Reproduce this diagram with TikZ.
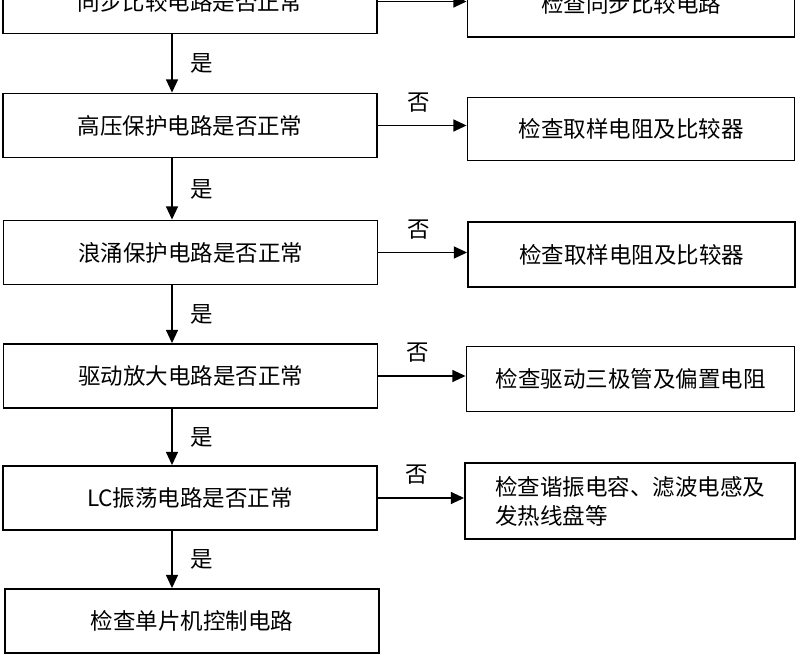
\documentclass[tikz,border=0pt]{standalone}
\usepackage{fontspec}
\newfontfamily\cjk{Noto Sans CJK SC}
\usetikzlibrary{arrows.meta}

\begin{document}
\begin{tikzpicture}[x=0.025cm,y=-0.025cm,
        every node/.style={font=\cjk\fontsize{16}{20.6}\selectfont},
        lbox/.style={draw,line width=1.3pt,minimum width=9.35cm,minimum height=1.6cm,inner sep=0pt},
        rbox/.style={draw,line width=1.3pt,minimum width=8.175cm,minimum height=1.575cm,inner sep=0pt},
        arr/.style={line width=1pt,-{Triangle[length=0.33cm,width=0.3cm]}},
        lab/.style={inner sep=0pt}]
        \useasboundingbox (0,0) rectangle (800,656);
        \clip (0,0) rectangle (800,656);
        \coordinate (col) at (172,0);

        % checks on the left
        \node[lbox] (sync) at (190,1.5) {同步比较电路是否正常};
        \node[lbox] (hv) at (190,125.5) {高压保护电路是否正常};
        \node[lbox] (surge) at (190.5,252.5) {浪涌保护电路是否正常};
        \node[lbox] (drv) at (190.5,376) {驱动放大电路是否正常};
        \node[lbox] (lc) at (190,498) {LC振荡电路是否正常};
        \node[lbox] (mcu) at (192,621) {检查单片机控制电路};

        % repairs on the right
        \node[rbox,minimum height=1.65cm] (chksync) at (631,4) {检查同步比较电路};
        \node[rbox] (chkhv) at (631,129) {检查取样电阻及比较器};
        \node[rbox,minimum height=1.625cm] (chksurge) at (631.5,254.5) {检查取样电阻及比较器};
        \node[rbox,minimum width=8.2cm,minimum height=1.625cm] (chkdrv) at (630.5,379) {检查驱动三极管及偏置电阻};
        \node[rbox,minimum width=8.25cm,minimum height=1.9cm,align=left] (chklc) at (630,501) {检查谐振电容、滤波电感及\\发热线盘等};

        % yes
        \draw[arr] (sync.south -| col) -- node[lab,right=0.45cm] {是} (hv.north -| col);
        \draw[arr] (hv.south -| col) -- node[lab,right=0.45cm] {是} (surge.north -| col);
        \draw[arr] (surge.south -| col) -- node[lab,right=0.45cm] {是} (drv.north -| col);
        \draw[arr] (drv.south -| col) -- node[lab,right=0.45cm] {是} (lc.north -| col);
        \draw[arr] (lc.south -| col) -- node[lab,right=0.45cm] {是} (mcu.north -| col);

        % no
        \draw[arr] (sync.east) -- (sync.east -| chksync.west);
        \draw[arr] (hv.east) -- node[lab,above=0.32cm,xshift=-0.1cm] {否} (hv.east -| chkhv.west);
        \draw[arr] (surge.east) -- node[lab,above=0.32cm,xshift=-0.1cm] {否} (surge.east -| chksurge.west);
        \draw[arr] (drv.east) -- node[lab,above=0.32cm,xshift=-0.1cm] {否} (drv.east -| chkdrv.west);
        \draw[arr] (lc.east) -- node[lab,above=0.32cm,xshift=-0.1cm] {否} (lc.east -| chklc.west);
\end{tikzpicture}
\end{document}
